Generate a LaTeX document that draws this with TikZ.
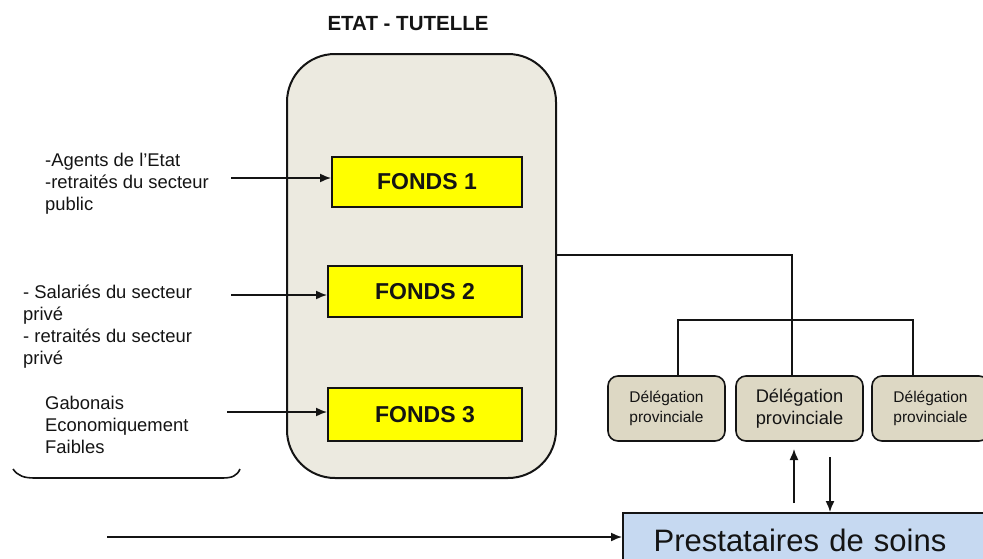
\documentclass[tikz,border=0pt]{standalone}
\usepackage{fontspec}
\setmainfont{Liberation Sans}
\usetikzlibrary{arrows.meta}

\definecolor{etatfill}{HTML}{ECEAE0}
\definecolor{delegfill}{HTML}{DDD8C4}
\definecolor{prestfill}{HTML}{C6D9F1}
\definecolor{fondsfill}{HTML}{FFFF00}
\definecolor{ink}{HTML}{141414}

\tikzset{
  conn/.style={line width=1.5pt, draw=ink},
  arr/.style={conn, -{Latex[length=11pt, width=9pt]}},
  fondsbox/.style={draw=ink, line width=2pt, fill=fondsfill, inner sep=0pt,
    font=\fontsize{23}{27}\selectfont\bfseries, text=ink},
  delegbox/.style={draw=ink, line width=1.6pt, fill=delegfill, rounded corners=10pt,
    inner sep=0pt, align=center, text=ink},
  sidetext/.style={anchor=north west, inner sep=0pt, align=left,
    font=\fontsize{18.4}{22.2}\selectfont, text=ink},
}

\begin{document}
\begin{tikzpicture}[x=1pt, y=-1pt]
\useasboundingbox (0,0) rectangle (983,558);

% title and supervising body
\node[font=\fontsize{20.5}{24}\selectfont\bfseries, text=ink] (title) at (408,24) {ETAT - TUTELLE};
\draw[draw=ink, line width=2pt, fill=etatfill, rounded corners=48pt]
  (287,54) rectangle (556,478);
\coordinate (etatE) at (556,255);

% the three funds
\node[fondsbox, minimum width=190pt, minimum height=50pt] (f1) at (427,182) {FONDS 1};
\node[fondsbox, minimum width=194pt, minimum height=51pt] (f2) at (425,291.5) {FONDS 2};
\node[fondsbox, minimum width=194pt, minimum height=53pt] (f3) at (425,414.5) {FONDS 3};

% insured populations
\node[sidetext] (p1) at (45,153) {-Agents de l’Etat\\-retraités du secteur\\public};
\node[sidetext] (p2) at (23,284.5) {- Salariés du secteur\\privé\\- retraités du secteur\\privé};
\node[sidetext] (p3) at (45,396) {Gabonais\\Economiquement\\Faibles};

\coordinate (a1) at (231,178);
\coordinate (a2) at (231,295);
\coordinate (a3) at (227,412);
\draw[arr] (a1) -- (a1 -| f1.west);
\draw[arr] (a2) -- (a2 -| f2.west);
\draw[arr] (a3) -- (a3 -| f3.west);

% bracket under the populations
\draw[conn, line width=1.6pt] (13,469) .. controls (18,476) and (24,478) .. (35,478)
  -- (222,478) .. controls (232,478) and (237,476) .. (240,469);

% provincial delegations
\node[delegbox, minimum width=117pt, minimum height=65pt,
  font=\fontsize{15.5}{20}\selectfont] (d1) at (666.5,408.5) {Délégation\\provinciale};
\node[delegbox, minimum width=127pt, minimum height=65pt,
  font=\fontsize{18.3}{22.5}\selectfont] (d2) at (799.5,408.5) {Délégation\\provinciale};
\node[delegbox, minimum width=117pt, minimum height=65pt,
  font=\fontsize{15.5}{20}\selectfont, text width=117pt] (d3) at (930.5,408.5) {Délégation\\provinciale};

\coordinate (j1) at (792,255);
\draw[conn] (etatE) -- (j1) -- (j1 |- d2.north);
\coordinate (bl) at (678,320);
\coordinate (br) at (913,320);
\draw[conn] (bl |- d1.north) -- (bl) -- (br) -- (br |- d3.north);

% care providers
\node[draw=ink, line width=2pt, fill=prestfill, minimum width=370pt, minimum height=60pt,
  anchor=north west, inner sep=0pt] (prest) at (622,512) {};
\node[font=\fontsize{31}{36}\selectfont, text=ink, inner sep=0pt] (prestlabel) at (800,540)
  {Prestataires\hspace{0.33em}de\hspace{0.33em}soins};

\coordinate (u0) at (794,503);
\coordinate (v0) at (830,457);
\draw[arr] (u0) -- (u0 |- 0,449);
\draw[arr] (v0) -- (v0 |- prest.north);

\coordinate (b0) at (107,537);
\draw[arr] (b0) -- (b0 -| prest.west);
\end{tikzpicture}
\end{document}
